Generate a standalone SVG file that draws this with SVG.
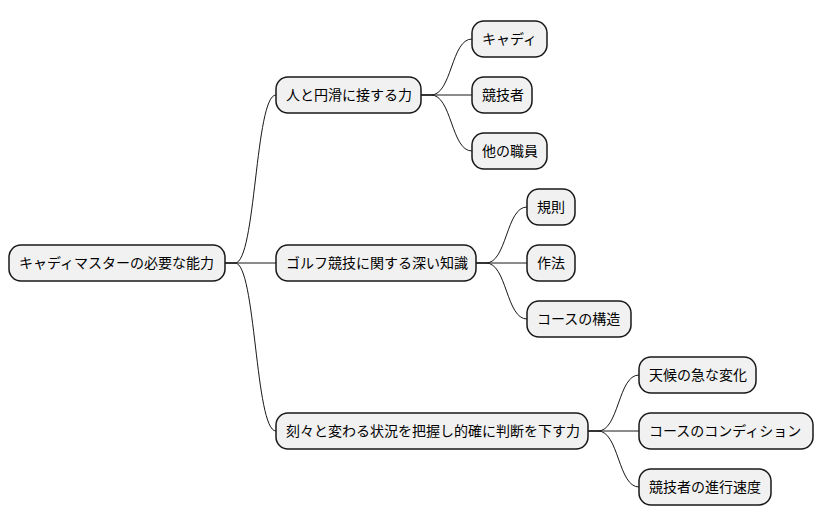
<svg xmlns="http://www.w3.org/2000/svg" width="824" height="527" viewBox="0 0 824 527">
<style>
.n rect{fill:#F1F1F1;stroke:#181818;stroke-width:1.5}
.n text{font-family:"Noto Sans CJK JP","Noto Sans",sans-serif;font-size:14px;fill:#000}
#c path{fill:none;stroke:#181818;stroke-width:1}
</style>
<rect width="824" height="527" fill="#fff"/>
<g id="c">
<path d="M225,263 L235,263 C256,263 255,95 276,95"/>
<path d="M225,263 L276,263"/>
<path d="M225,263 L235,263 C256,263 255,431 276,431"/>
<path d="M421,95 L431,95 C452,95 451,39 472,39"/>
<path d="M421,95 L472,95"/>
<path d="M421,95 L431,95 C452,95 451,151 472,151"/>
<path d="M476,263 L486,263 C507,263 506,207 527,207"/>
<path d="M476,263 L527,263"/>
<path d="M476,263 L486,263 C507,263 506,319 527,319"/>
<path d="M588,431 L598,431 C619,431 618,375 639,375"/>
<path d="M588,431 L639,431"/>
<path d="M588,431 L598,431 C619,431 618,487 639,487"/>
</g>
<g id="root" class="n"><rect x="9" y="245" width="216" height="36" rx="12"/><text x="19" y="268">キャディマスターの必要な能力</text></g>
<g id="a" class="n"><rect x="276" y="77" width="145" height="36" rx="12"/><text x="286" y="100">人と円滑に接する力</text></g>
<g id="b" class="n"><rect x="276" y="245" width="200" height="36" rx="12"/><text x="286" y="268">ゴルフ競技に関する深い知識</text></g>
<g id="cc" class="n"><rect x="276" y="413" width="312" height="36" rx="12"/><text x="286" y="436">刻々と変わる状況を把握し的確に判断を下す力</text></g>
<g id="a1" class="n"><rect x="472" y="21" width="75" height="36" rx="12"/><text x="482" y="44">キャディ</text></g>
<g id="a2" class="n"><rect x="472" y="77" width="60" height="36" rx="12"/><text x="482" y="100">競技者</text></g>
<g id="a3" class="n"><rect x="472" y="133" width="75" height="36" rx="12"/><text x="482" y="156">他の職員</text></g>
<g id="b1" class="n"><rect x="527" y="189" width="48" height="36" rx="12"/><text x="537" y="212">規則</text></g>
<g id="b2" class="n"><rect x="527" y="245" width="48" height="36" rx="12"/><text x="537" y="268">作法</text></g>
<g id="b3" class="n"><rect x="527" y="301" width="104" height="36" rx="12"/><text x="537" y="324">コースの構造</text></g>
<g id="c1" class="n"><rect x="639" y="357" width="117" height="36" rx="12"/><text x="649" y="380">天候の急な変化</text></g>
<g id="c2" class="n"><rect x="639" y="413" width="174" height="36" rx="12"/><text x="649" y="436">コースのコンディション</text></g>
<g id="c3" class="n"><rect x="639" y="469" width="132" height="36" rx="12"/><text x="649" y="492">競技者の進行速度</text></g>
</svg>
